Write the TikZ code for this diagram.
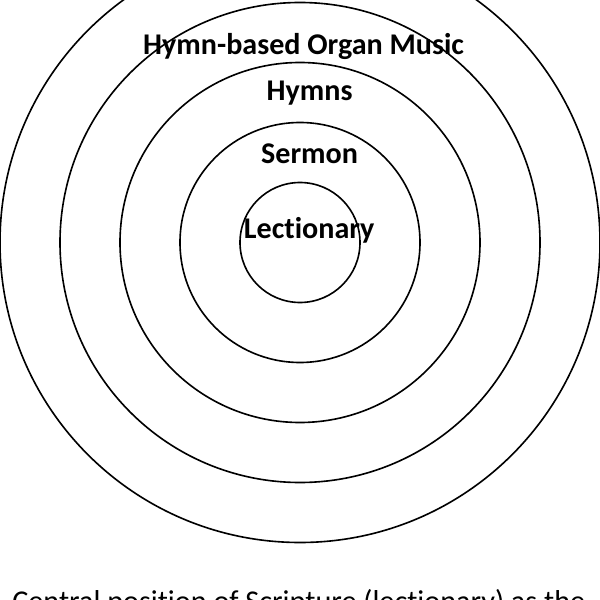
\documentclass[tikz,border=0pt]{standalone}
\usepackage{fontspec}
\setmainfont{Carlito}[Ligatures={TeX,NoCommon}]
\tikzset{
  ring/.style={draw=black, line width=1.15pt},
  lab/.style={font=\fontsize{21.4}{25}\selectfont\bfseries, anchor=base, inner sep=0pt},
  caption/.style={font=\fontsize{21.5}{25}\selectfont, anchor=base west, inner sep=0pt}
}
\begin{document}
\begin{tikzpicture}
\useasboundingbox (0,0) rectangle (15,15);
\clip (0,0) rectangle (15,15);
\fill[white] (0,0) rectangle (15,15);
\coordinate (c) at (7.5,8.9375);
\draw[ring] (c) circle (1.5cm);
\draw[ring] (c) circle (3cm);
\draw[ring] (c) circle (4.5cm);
\draw[ring] (c) circle (6cm);
\draw[ring] (c) circle (7.5cm);
\node[lab] (organ) at (7.59,13.625) {Hymn-based Organ Music};
\node[lab] (hymns) at (7.74,12.475) {Hymns};
\node[lab] (sermon) at (7.74,10.92) {Sermon};
\node[lab] (lect) at (7.73,9.04) {Lectionary};
\node[caption] (cap) at (0.3,-0.28) {Central position of Scripture (lectionary) as the};
\end{tikzpicture}
\end{document}
